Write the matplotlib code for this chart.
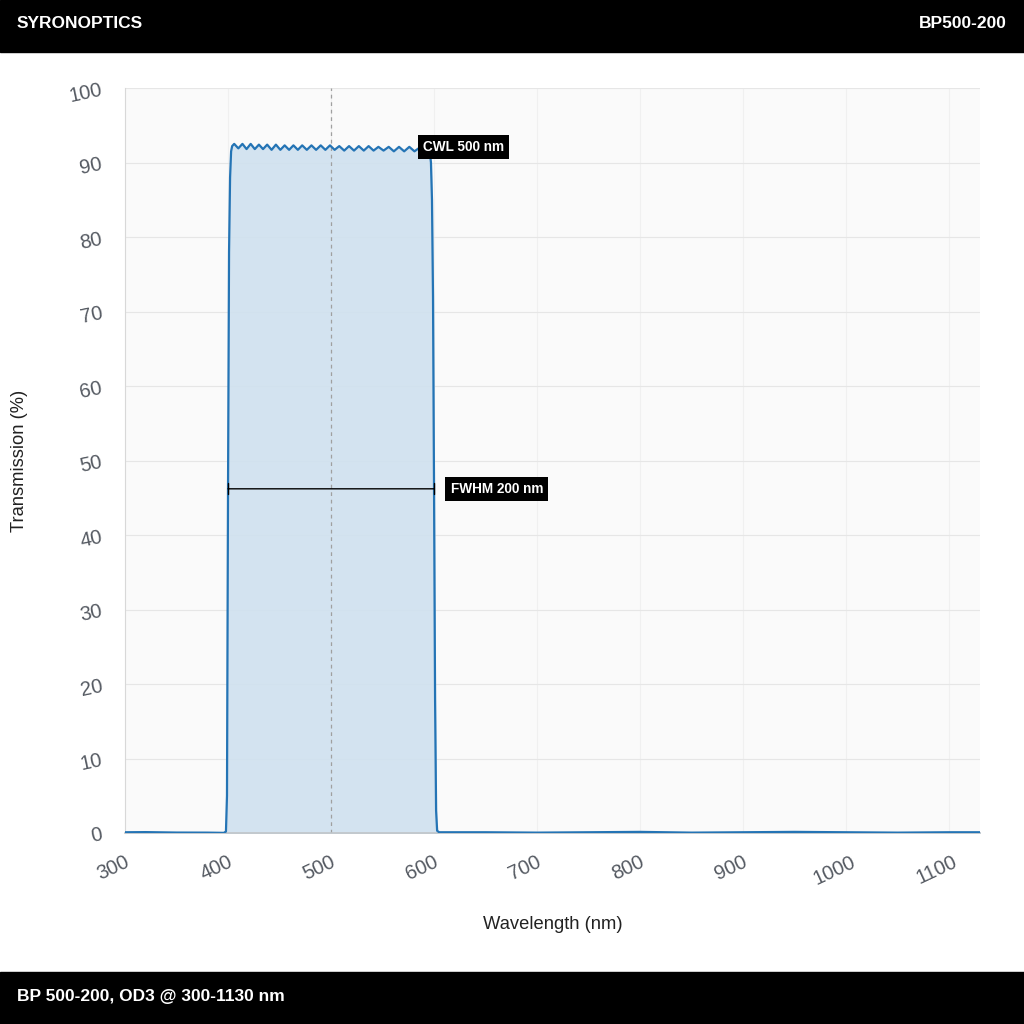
import matplotlib
matplotlib.use("Agg")
import matplotlib.pyplot as plt
from matplotlib.transforms import ScaledTranslation

plt.rcParams['font.family'] = ['Liberation Sans', 'DejaVu Sans']

# ---- data ----
wl_low = [300, 320, 350, 380, 396, 398, 399]
tr_low = [0.10, 0.12, 0.06, 0.05, 0.02, 0.2, 5.0]
wl_edge_up = [400, 401, 402, 403, 404]
tr_edge_up = [46.0, 78.0, 88.0, 91.5, 92.2]
wl_ripple = [406, 410, 414, 418, 422, 426, 430, 434, 438, 442.3, 446.5, 450.8,
             455, 459.3, 463.5, 467.8, 472, 476.5, 481, 485.5, 490, 494.5, 499,
             503.5, 508, 512.8, 517.5, 522.3, 527, 531.8, 536.5, 541.3, 546,
             551, 556, 561, 566, 571, 576, 581, 586, 590.5, 594]
tr_ripple = [92.5, 91.9, 92.5, 91.8, 92.5, 91.8, 92.4, 91.8, 92.4, 91.7, 92.4,
             91.7, 92.3, 91.7, 92.3, 91.7, 92.3, 91.7, 92.3, 91.7, 92.3, 91.7,
             92.3, 91.7, 92.2, 91.6, 92.2, 91.6, 92.2, 91.6, 92.2, 91.6, 92.1,
             91.6, 92.1, 91.5, 92.1, 91.5, 92.1, 91.5, 92.0, 91.6, 91.8]
wl_edge_dn = [596, 597, 598, 599, 600, 601, 602, 603]
tr_edge_dn = [91.3, 90.0, 85.0, 72.0, 46.0, 18.0, 3.0, 0.3]
wl_high = [605, 650, 700, 750, 800, 850, 900, 950, 1000, 1050, 1100, 1130]
tr_high = [0.10, 0.10, 0.05, 0.10, 0.15, 0.05, 0.10, 0.15, 0.10, 0.05, 0.10, 0.10]

wavelength = wl_low + wl_edge_up + wl_ripple + wl_edge_dn + wl_high
transmission = tr_low + tr_edge_up + tr_ripple + tr_edge_dn + tr_high

cwl = 500
fwhm_lo, fwhm_hi, fwhm_level = 400, 600, 46.2
x_ticks = [300, 400, 500, 600, 700, 800, 900, 1000, 1100]
y_ticks = [0, 10, 20, 30, 40, 50, 60, 70, 80, 90, 100]

# ---- figure ----
fig = plt.figure(figsize=(10.24, 10.24), dpi=100)
fig.patch.set_facecolor('white')

# header / footer bars
fig.add_artist(plt.Rectangle((0, 1 - 52/1024), 1, 52/1024, transform=fig.transFigure,
                             color='black', zorder=0))
fig.add_artist(plt.Rectangle((0, 0), 1, 52/1024, transform=fig.transFigure,
                             color='black', zorder=0))
fig.text(17/1024, 1 - 24/1024, 'SYRONOPTICS', color='white', fontsize=12.5,
         fontweight='bold', va='center', ha='left')
fig.text(1 - 17/1024, 1 - 24/1024, 'BP500-200', color='white', fontsize=12.5,
         fontweight='bold', va='center', ha='right')
fig.text(17/1024, 1 - 997/1024, 'BP 500-200, OD3 @ 300-1130 nm', color='white',
         fontsize=12.5, fontweight='bold', va='center', ha='left')

ax = fig.add_axes([125/1024, 1 - 833/1024, (980 - 125)/1024, (833 - 88)/1024])
ax.set_facecolor('#fafafa')

ax.fill_between(wavelength, transmission, 0, color='#cfe1ef', alpha=0.9, zorder=2)
ax.plot(wavelength, transmission, color='#2474b5', lw=1.6, zorder=3)

ax.axvline(cwl, color='#a0a0a0', lw=0.9, ls=(0, (3, 3)), zorder=2.5)

ax.set_xlim(300, 1130)
ax.set_ylim(0, 100)
ax.set_xticks(x_ticks)
ax.set_yticks(y_ticks)
ax.grid(axis='y', color='#e6e6e6', lw=0.8, zorder=1)
ax.grid(axis='x', color='#f0f0f0', lw=0.8, zorder=1)
ax.set_axisbelow(True)

for s in ['top', 'right']:
    ax.spines[s].set_visible(False)
ax.spines['left'].set_color('#d8d8d8')
ax.spines['bottom'].set_color('#c0c4c8')
ax.spines['bottom'].set_linewidth(1.2)
ax.tick_params(length=0, colors='#555a62', labelsize=14.5)
ax.tick_params(axis='x', pad=14)
ax.tick_params(axis='y', pad=15)
xoff = ScaledTranslation(-12/100, 0, fig.dpi_scale_trans)
for lbl in ax.get_xticklabels():
    lbl.set_rotation(25)
    lbl.set_ha('center')
    lbl.set_transform(lbl.get_transform() + xoff)
for lbl in ax.get_yticklabels():
    lbl.set_rotation(12)
    lbl.set_ha('right')

ax.set_xlabel('Wavelength (nm)', fontsize=13.2, color='#222222', labelpad=20)
ax.set_ylabel('Transmission (%)', fontsize=13.2, color='#222222')
ax.yaxis.set_label_coords(-0.113, 0.5)

# FWHM marker
ax.annotate('', xy=(fwhm_lo, fwhm_level), xytext=(fwhm_hi, fwhm_level),
            arrowprops=dict(arrowstyle='|-|', color='black', lw=1.0,
                            mutation_scale=4, shrinkA=0, shrinkB=0), zorder=4)
ax.text(616, fwhm_level, 'FWHM 200 nm', color='white', fontsize=9.8, fontweight='bold',
        va='center', ha='left', zorder=5,
        bbox=dict(boxstyle='square,pad=0.38', fc='black', ec='none'))
ax.text(589, 92.1, 'CWL 500 nm', color='white', fontsize=9.8, fontweight='bold',
        va='center', ha='left', zorder=5,
        bbox=dict(boxstyle='square,pad=0.38', fc='black', ec='none'))

fig.savefig('out.png', dpi=100, facecolor='white')
